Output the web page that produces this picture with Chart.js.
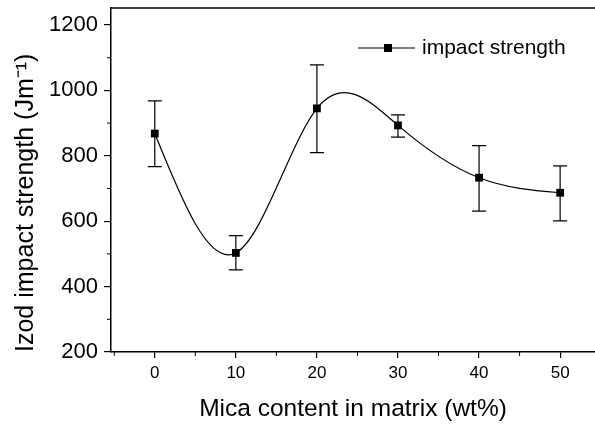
<!DOCTYPE html>
<html>
<head>
<meta charset="utf-8">
<script src="https://cdn.jsdelivr.net/npm/chart.js@4"></script>
<style>
  body { margin: 0; background: #fff; overflow: hidden; }
  canvas { display: block; }
</style>
</head>
<body>
<canvas id="impactChart" width="595" height="427"></canvas>
<script>
// mica content (wt%) and measured Izod impact strength
const mica = [0, 10, 20, 30, 40, 50];
const strength = [868, 503, 945, 893, 733, 687];
const errLow = [767, 451, 810, 857, 631, 601];
const errHigh = [968, 556, 1078, 925, 831, 769];
const xTicks = [0, 10, 20, 30, 40, 50];
const yTicks = [200, 400, 600, 800, 1000, 1200];

const FONT = "'Liberation Sans', Arial, sans-serif";

// replace chart.js bezier control points by a natural cubic spline through the points
const naturalSpline = {
  id: "naturalSpline",
  beforeDatasetsDraw(chart) {
    const meta = chart.getDatasetMeta(0);
    const line = meta.dataset;
    line.updateControlPoints(chart.chartArea, "x");
    const pts = meta.data;
    const n = pts.length;
    const xs = pts.map((p) => p.x), ys = pts.map((p) => p.y);
    const h = [], d = [];
    for (let i = 0; i < n - 1; i++) {
      h.push(xs[i + 1] - xs[i]);
      d.push((ys[i + 1] - ys[i]) / h[i]);
    }
    // tridiagonal solve for second derivatives, M[0] = M[n-1] = 0
    const M = new Array(n).fill(0);
    const a = [], b = [], c = [], r = [];
    for (let i = 1; i < n - 1; i++) {
      a.push(h[i - 1]); b.push(2 * (h[i - 1] + h[i])); c.push(h[i]);
      r.push(6 * (d[i] - d[i - 1]));
    }
    const m = b.length;
    for (let i = 1; i < m; i++) {
      const w = a[i] / b[i - 1];
      b[i] -= w * c[i - 1];
      r[i] -= w * r[i - 1];
    }
    const sol = new Array(m);
    sol[m - 1] = r[m - 1] / b[m - 1];
    for (let i = m - 2; i >= 0; i--) sol[i] = (r[i] - c[i] * sol[i + 1]) / b[i];
    for (let i = 0; i < m; i++) M[i + 1] = sol[i];

    for (let i = 0; i < n - 1; i++) {
      const s0 = d[i] - h[i] * (2 * M[i] + M[i + 1]) / 6;
      const s1 = d[i] + h[i] * (M[i] + 2 * M[i + 1]) / 6;
      pts[i].cp2x = xs[i] + h[i] / 3;
      pts[i].cp2y = ys[i] + s0 * h[i] / 3;
      pts[i + 1].cp1x = xs[i + 1] - h[i] / 3;
      pts[i + 1].cp1y = ys[i + 1] - s1 * h[i] / 3;
    }
    line._path = undefined;
  }
};

// error bars, minor ticks, top frame line and the legend
const extras = {
  id: "extras",
  afterDatasetsDraw(chart) {
    const { ctx, chartArea, scales: { x, y } } = chart;
    ctx.save();
    ctx.strokeStyle = "#000";
    ctx.lineWidth = 1.2;
    mica.forEach((m, i) => {
      const px = x.getPixelForValue(m);
      const top = y.getPixelForValue(errHigh[i]);
      const bot = y.getPixelForValue(errLow[i]);
      ctx.beginPath();
      ctx.moveTo(px, top); ctx.lineTo(px, bot);
      ctx.moveTo(px - 7, top); ctx.lineTo(px + 7, top);
      ctx.moveTo(px - 7, bot); ctx.lineTo(px + 7, bot);
      ctx.stroke();
    });

    // minor ticks
    ctx.lineWidth = 1;
    for (let v = 300; v <= 1100; v += 200) {
      const py = y.getPixelForValue(v);
      ctx.beginPath();
      ctx.moveTo(chartArea.left, py); ctx.lineTo(chartArea.left - 4, py);
      ctx.stroke();
    }
    for (let v = -5; v <= 55; v += 10) {
      const px = x.getPixelForValue(v);
      if (px < chartArea.left + 1 || px > chartArea.right) continue;
      ctx.beginPath();
      ctx.moveTo(px, chartArea.bottom); ctx.lineTo(px, chartArea.bottom + 4);
      ctx.stroke();
    }

    // top frame line
    ctx.lineWidth = 1.5;
    ctx.beginPath();
    ctx.moveTo(chartArea.left, chartArea.top);
    ctx.lineTo(chartArea.right, chartArea.top);
    ctx.stroke();

    // legend
    const ly = 48;
    ctx.lineWidth = 1.2;
    ctx.beginPath();
    ctx.moveTo(358, ly); ctx.lineTo(415, ly);
    ctx.stroke();
    ctx.fillStyle = "#000";
    ctx.fillRect(384, ly - 4, 8, 8);
    ctx.font = "21px " + FONT;
    ctx.textBaseline = "middle";
    ctx.textAlign = "left";
    ctx.fillText(chart.data.datasets[0].label, 422, ly);
    ctx.restore();
  }
};

new Chart(document.getElementById("impactChart").getContext("2d"), {
  type: "line",
  data: {
    datasets: [
      {
        label: "impact strength",
        data: mica.map((m, i) => ({ x: m, y: strength[i] })),
        borderColor: "#000",
        backgroundColor: "#000",
        borderWidth: 1.2,
        tension: 0.4,
        pointStyle: "rect",
        pointRadius: 5.5,
        pointBorderWidth: 0,
        clip: false,
      },
    ],
  },
  options: {
    responsive: false,
    animation: false,
    layout: { autoPadding: false, padding: { top: 8, right: 0, left: 0, bottom: 0 } },
    plugins: { legend: { display: false }, tooltip: { enabled: false } },
    scales: {
      x: {
        type: "linear",
        min: -5.4,
        max: 54.3,
        afterBuildTicks: (s) => { s.ticks = xTicks.map((v) => ({ value: v })); },
        afterFit: (s) => { s.height = 75; s.paddingLeft = 0; s.paddingRight = 0; },
        grid: { drawOnChartArea: false, drawTicks: true, tickLength: 6, color: "#000", lineWidth: 1.2 },
        border: { display: true, color: "#000", width: 1.5 },
        ticks: { color: "#000", padding: 5, font: { family: FONT, size: 17 } },
        title: {
          display: true,
          text: "Mica content in matrix (wt%)",
          color: "#000",
          font: { family: FONT, size: 24.5 },
          padding: { top: 0, bottom: 3 },
        },
      },
      y: {
        min: 200,
        max: 1252,
        afterBuildTicks: (s) => { s.ticks = yTicks.map((v) => ({ value: v })); },
        afterFit: (s) => { s.width = 111; s.paddingTop = 0; s.paddingBottom = 0; },
        grid: { drawOnChartArea: false, drawTicks: true, tickLength: 7, color: "#000", lineWidth: 1.2 },
        border: { display: true, color: "#000", width: 1.5 },
        ticks: { color: "#000", padding: 6, font: { family: FONT, size: 22 }, callback: (v) => String(v) },
        title: {
          display: true,
          text: "Izod impact strength (Jm\u207B\u00B9)",
          color: "#000",
          align: "start",
          font: { family: FONT, size: 25 },
          padding: { top: 11, bottom: 0 },
        },
      },
    },
  },
  plugins: [naturalSpline, extras],
});
</script>
</body>
</html>
